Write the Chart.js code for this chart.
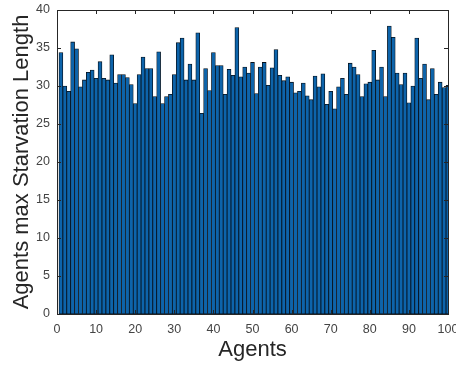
<!DOCTYPE html>
<html>
<head>
<meta charset="utf-8">
<script src="https://cdn.jsdelivr.net/npm/chart.js@4/dist/chart.umd.min.js"></script>
<style>
  html, body { margin: 0; padding: 0; background: #ffffff; }
  canvas { display: block; }
</style>
</head>
<body>
<canvas id="barChart" width="456" height="368"></canvas>
<script>
// Agent ids (x positions of the bars)
const agents = [
    1, 2, 3, 4, 5, 6, 7, 8, 9, 10,
    11, 12, 13, 14, 15, 16, 17, 18, 19, 20,
    21, 22, 23, 24, 25, 26, 27, 28, 29, 30,
    31, 32, 33, 34, 35, 36, 37, 38, 39, 40,
    41, 42, 43, 44, 45, 46, 47, 48, 49, 50,
    51, 52, 53, 54, 55, 56, 57, 58, 59, 60,
    61, 62, 63, 64, 65, 66, 67, 68, 69, 70,
    71, 72, 73, 74, 75, 76, 77, 78, 79, 80,
    81, 82, 83, 84, 85, 86, 87, 88, 89, 90,
    91, 92, 93, 94, 95, 96, 97, 98, 99, 100
];

// Max starvation length per agent
const maxStarvation = [
    34.4, 30.0, 29.3, 35.8, 34.9, 29.9, 30.8, 31.8, 32.1, 31.0,
    33.2, 31.0, 30.8, 34.1, 30.4, 31.5, 31.5, 31.1, 30.2, 27.7,
    31.5, 33.8, 32.3, 32.3, 28.6, 34.5, 27.7, 28.6, 28.9, 31.5,
    35.7, 36.3, 30.8, 32.9, 30.8, 37.0, 26.4, 32.3, 29.4, 34.4,
    32.7, 32.7, 28.9, 32.2, 31.4, 37.7, 31.2, 32.5, 31.7, 33.1,
    29.0, 32.5, 33.1, 30.1, 32.4, 34.8, 31.4, 30.7, 31.2, 30.5,
    29.1, 29.3, 30.4, 28.7, 28.2, 31.3, 29.9, 31.6, 27.6, 29.3,
    27.0, 29.9, 31.0, 28.9, 33.0, 32.5, 31.5, 28.6, 30.3, 30.5,
    34.7, 30.8, 32.5, 28.6, 37.9, 36.4, 31.7, 30.2, 31.7, 27.8,
    30.0, 36.3, 31.0, 32.9, 28.2, 32.3, 28.9, 30.5, 29.8, 30.1
];

const xTicks = [0, 10, 20, 30, 40, 50, 60, 70, 80, 90, 100];
const yTicks = [0, 5, 10, 15, 20, 25, 30, 35, 40];

const FONT = "'Liberation Sans', Arial, Helvetica, sans-serif";
const AXIS_COLOR = '#262626';

// MATLAB style box with inward tick marks on all four sides
const matlabBox = {
    id: 'matlabBox',
    afterDraw(chart) {
        const { ctx, chartArea: a, scales } = chart;
        const len = 4;
        ctx.save();
        ctx.strokeStyle = AXIS_COLOR;
        ctx.lineWidth = 1;
        ctx.beginPath();
        xTicks.forEach(v => {
            const px = Math.round(scales.x.getPixelForValue(v)) + 0.5;
            ctx.moveTo(px, a.bottom);
            ctx.lineTo(px, a.bottom - len);
            ctx.moveTo(px, a.top);
            ctx.lineTo(px, a.top + len);
        });
        yTicks.forEach(v => {
            const py = Math.round(scales.y.getPixelForValue(v)) + 0.5;
            ctx.moveTo(a.left, py);
            ctx.lineTo(a.left + len, py);
            ctx.moveTo(a.right, py);
            ctx.lineTo(a.right - len, py);
        });
        ctx.stroke();
        ctx.strokeRect(Math.round(a.left) + 0.5, Math.round(a.top) + 0.5,
            Math.round(a.right - a.left), Math.round(a.bottom - a.top));
        ctx.restore();
    }
};

const chartData = agents.map((a, i) => ({ x: a, y: maxStarvation[i] }));

new Chart(document.getElementById('barChart'), {
    type: 'bar',
    data: {
        datasets: [{
            data: chartData,
            backgroundColor: '#0d64ab',
            borderColor: '#07101a',
            borderWidth: 0.8,
            borderSkipped: false,
            barPercentage: 1.0,
            categoryPercentage: 1.0
        }]
    },
    options: {
        responsive: false,
        animation: false,
        devicePixelRatio: 1,
        layout: {
            padding: { top: 10, right: 8, left: 0, bottom: 0 }
        },
        plugins: {
            legend: { display: false },
            tooltip: { enabled: false }
        },
        scales: {
            x: {
                type: 'linear',
                min: 0,
                max: 100,
                offset: false,
                afterBuildTicks: (scale) => {
                    scale.ticks = xTicks.map(v => ({ value: v }));
                },
                afterFit: (scale) => {
                    scale.height = 54;
                    scale.paddingLeft = 0;
                    scale.paddingRight = 0;
                },
                grid: { display: false, drawTicks: false },
                border: { display: false },
                ticks: {
                    color: '#444444',
                    padding: 8,
                    maxRotation: 0,
                    autoSkip: false,
                    font: { family: FONT, size: 12.5 }
                },
                title: {
                    display: true,
                    text: 'Agents',
                    color: AXIS_COLOR,
                    font: { family: FONT, size: 22, lineHeight: 1 },
                    padding: { top: 0, bottom: 7 }
                }
            },
            y: {
                min: 0,
                max: 40,
                afterBuildTicks: (scale) => {
                    scale.ticks = yTicks.map(v => ({ value: v }));
                },
                afterFit: (scale) => {
                    scale.width = 57;
                    scale.paddingTop = 0;
                    scale.paddingBottom = 0;
                },
                grid: { display: false, drawTicks: false },
                border: { display: false },
                ticks: {
                    color: '#444444',
                    padding: 7,
                    font: { family: FONT, size: 12.5 }
                },
                title: {
                    display: true,
                    text: 'Agents max Starvation Length',
                    color: AXIS_COLOR,
                    font: { family: FONT, size: 22, lineHeight: 1 },
                    padding: { top: 11, bottom: 0 }
                }
            }
        }
    },
    plugins: [matlabBox]
});
</script>
</body>
</html>
